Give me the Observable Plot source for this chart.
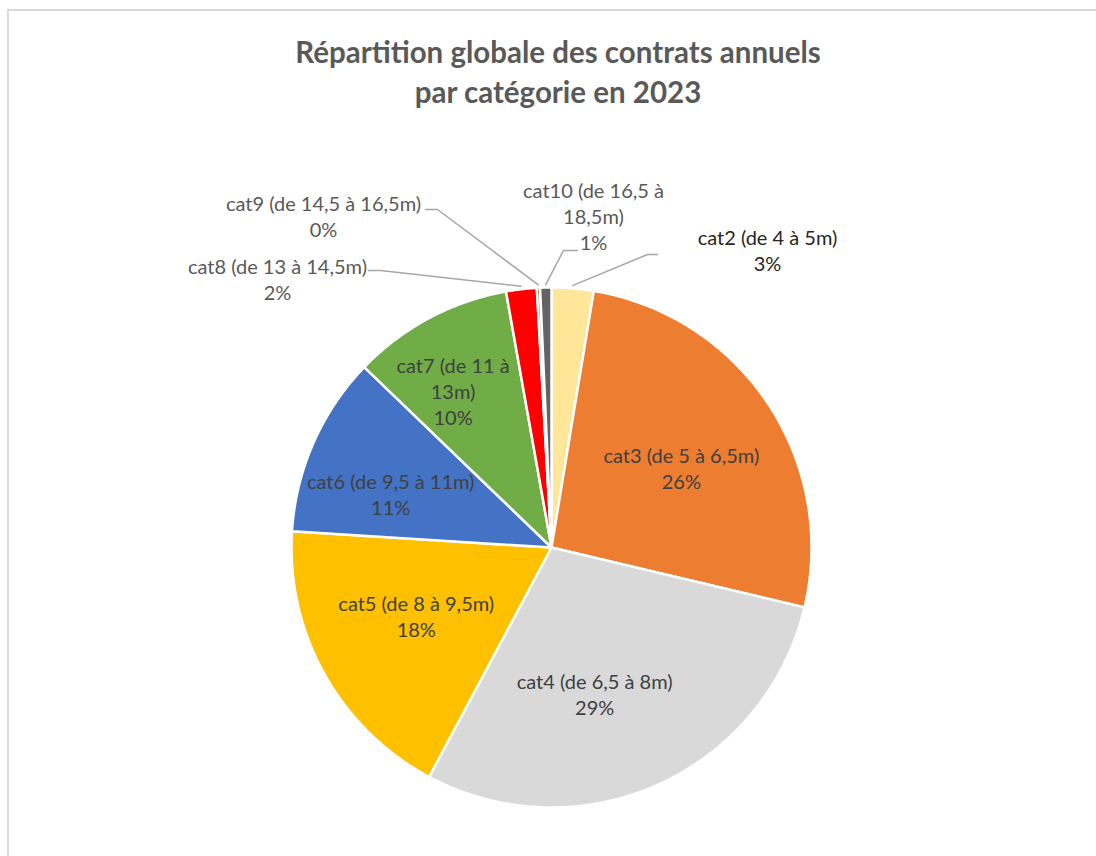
<!DOCTYPE html>
<html>
<head>
<meta charset="utf-8">
<script src="https://cdn.jsdelivr.net/npm/d3@7"></script>
<script src="https://cdn.jsdelivr.net/npm/@observablehq/plot@0.6"></script>
<style>
  html, body { margin: 0; padding: 0; background: #fff; overflow: hidden; }
  #wrap { position: relative; width: 1096px; height: 856px; overflow: hidden; }
  #frame { position: absolute; left: 7px; top: 9px; width: 1200px; height: 900px;
           border-left: 2px solid #D9D9D9; border-top: 2px solid #D9D9D9; }
  #title { position: absolute; left: 10px; top: 32px; width: 1096px; text-align: center;
           font-family: Lato, "Open Sans", sans-serif; font-weight: bold; font-size: 29.5px;
           line-height: 40px; color: #595959; }
  #chart { position: absolute; left: 0; top: 0; }
</style>
</head>
<body>
<div id="wrap">
  <div id="frame"></div>
  <div id="chart"></div>
  <div id="title">Répartition globale des contrats annuels<br>par catégorie en 2023</div>
</div>
<script>
// ---- data ----
const categories = ["cat2", "cat3", "cat4", "cat5", "cat6", "cat7", "cat8", "cat9", "cat10"];
const ranges = ["de 4 à 5m", "de 5 à 6,5m", "de 6,5 à 8m", "de 8 à 9,5m", "de 9,5 à 11m",
                "de 11 à 13m", "de 13 à 14,5m", "de 14,5 à 16,5m", "de 16,5 à 18,5m"];
const shares = [2.6, 26.1, 29.1, 18.2, 11.2, 10.0, 1.9, 0.2, 0.7];
const colors = ["#FFE699", "#ED7D31", "#D9D9D9", "#FFC000", "#4472C4", "#70AD47", "#FF0000", "#997300", "#636363"];

// ---- layout (styling / placement, not data) ----
const W = 1096, H = 856, CX = 551, CY = 547, R = 260;
const inside = {
  cat3: {r: 0.6, dx: 0, dy: 7},
  cat4: {r: 0.6, dx: -21, dy: 4},
  cat5: {r: 0.6, dx: 1, dy: -8},
  cat6: {r: 0.6, dx: -18, dy: 9},
  cat7: {r: 0.6, dx: -25, dy: -19, wrap: 13}
};
const outside = {
  cat2:  {x: 216,  y: -297.5, elbow: [96, -293],  end: [106, -293], color: "#262626"},
  cat10: {x: 42,   y: -332,   elbow: [12, -297],  end: [26, -297], wrap: 16, color: "#595959"},
  cat9:  {x: -228, y: -332,   elbow: [-114, -338], end: [-126, -338], color: "#595959"},
  cat8:  {x: -274, y: -269,   elbow: [-171, -277], end: [-183, -277], color: "#595959"}
};

function wrapText(s, max) {
  if (!max) return s;
  const words = s.split(" "); const lines = []; let cur = "";
  for (const w of words) {
    const t = cur ? cur + " " + w : w;
    if (t.length > max && cur) { lines.push(cur); cur = w; } else cur = t;
  }
  if (cur) lines.push(cur);
  return lines.join("\n");
}

const total = d3.sum(shares);
const rows = categories.map((c, i) => ({cat: c, range: ranges[i], share: shares[i]}));
const arcs = d3.pie().sort(null).value(d => d.share).startAngle(0).endAngle(2 * Math.PI)(rows);
const polar = (a, r) => [r * Math.sin(a), -r * Math.cos(a)];

// slice polygons
const slicePts = [];
for (const a of arcs) {
  const c = a.data.cat;
  slicePts.push({cat: c, x: 0, y: 0});
  const n = Math.max(2, Math.ceil((a.endAngle - a.startAngle) / (Math.PI / 360)));
  for (let k = 0; k <= n; k++) {
    const [x, y] = polar(a.startAngle + (a.endAngle - a.startAngle) * k / n, R);
    slicePts.push({cat: c, x, y});
  }
  slicePts.push({cat: c, x: 0, y: 0});
}

// labels
const labelsIn = [], labelsOut = [], leaders = [];
for (const a of arcs) {
  const c = a.data.cat;
  const mid = (a.startAngle + a.endAngle) / 2;
  const pct = Math.round(a.data.share / total * 100) + "%";
  const base = `${c} (${a.data.range})`;
  if (inside[c]) {
    const L = inside[c];
    const [x, y] = polar(mid, L.r * R);
    labelsIn.push({cat: c, x: x + L.dx, y: y + L.dy, text: wrapText(base, L.wrap) + "\n" + pct});
  } else if (outside[c]) {
    const L = outside[c];
    labelsOut.push({cat: c, x: L.x, y: L.y, text: wrapText(base, L.wrap) + "\n" + pct, color: L.color});
    const [sx, sy] = polar(mid, R + 3);
    leaders.push({cat: c, x: sx, y: sy});
    leaders.push({cat: c, x: L.elbow[0], y: L.elbow[1]});
    leaders.push({cat: c, x: L.end[0], y: L.end[1]});
  }
}

const font = "Lato, 'Open Sans', sans-serif";
const chart = Plot.plot({
  width: W, height: H, margin: 0,
  x: {domain: [-CX, W - CX], range: [0, W], axis: null},
  y: {domain: [-CY, H - CY], range: [0, H], axis: null},
  color: {domain: categories, range: colors},
  style: {fontFamily: font, background: "transparent"},
  marks: [
    Plot.line(slicePts, {x: "x", y: "y", z: "cat", fill: "cat", stroke: "white", strokeWidth: 2.5, strokeLinejoin: "round", curve: "linear"}),
    Plot.line(leaders, {x: "x", y: "y", z: "cat", stroke: "#A6A6A6", strokeWidth: 1.5, curve: "linear"}),
    Plot.text(labelsIn, {x: "x", y: "y", text: "text", fill: "#404040", fontSize: 20, lineHeight: 1.3, textAnchor: "middle", lineAnchor: "middle"}),
    Plot.text(labelsOut, {x: "x", y: "y", text: "text", fill: d => d.color, fontSize: 20, lineHeight: 1.3, textAnchor: "middle", lineAnchor: "middle"})
  ]
});
document.getElementById("chart").appendChild(chart);
</script>
</body>
</html>
